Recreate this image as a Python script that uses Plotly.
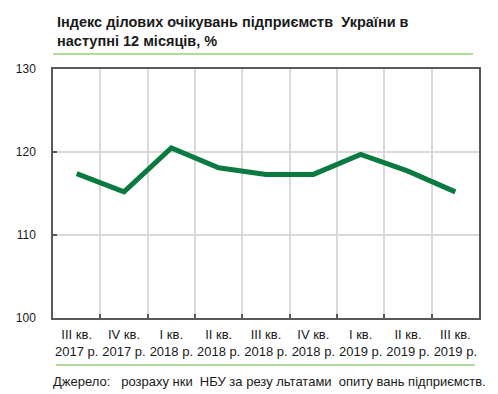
import plotly.graph_objects as go

categories = ["III кв.<br>2017 р.", "IV кв.<br>2017 р.", "I кв.<br>2018 р.", "II кв.<br>2018 р.",
              "III кв.<br>2018 р.", "IV кв.<br>2018 р.", "I кв.<br>2019 р.", "II кв.<br>2019 р.",
              "III кв.<br>2019 р."]
values = [117.4, 115.2, 120.5, 118.1, 117.3, 117.3, 119.7, 117.7, 115.2]
y_ticks = [100, 110, 120, 130]

title = "Індекс ділових очікувань підприємств  України в<br>наступні 12 місяців, %"
source = "Джерело:   розраху нки  НБУ за резу льтатами  опиту вань підприємств."

L, R, T, B = 53, 19, 69, 76
W, H = 498, 394
pw, ph = W - L - R, H - T - B

def px_x(x):
    return (x - L) / pw

def px_y(y):
    return (H - B - y) / ph

fig = go.Figure()
fig.add_trace(go.Scatter(x=categories, y=values, mode="lines",
                         line=dict(color="#0b7a40", width=5), hoverinfo="skip"))

font = "Liberation Sans, Arial, sans-serif"
fig.update_layout(
    width=W, height=H,
    margin=dict(l=L, r=R, t=T, b=B, autoexpand=False),
    paper_bgcolor="white", plot_bgcolor="white",
    showlegend=False,
    font=dict(family=font, size=12, color="#1a1a1a"),
    xaxis=dict(type="category", tickson="boundaries", range=[-0.5, len(categories) - 0.5],
               showgrid=True, gridcolor="#d9d9d9", tickangle=0,
               gridwidth=1.5, showline=True, mirror=True, linecolor="#595959", linewidth=1.5,
               ticks="inside", ticklen=4, tickcolor="#595959", tickwidth=1.5,
               tickfont=dict(size=13, color="#1a1a1a"), ticklabelstandoff=4),
    yaxis=dict(range=[100, 130], tickvals=y_ticks, showgrid=True, gridcolor="#d9d9d9",
               gridwidth=1.5, showline=True, mirror=True, linecolor="#595959", linewidth=1.5,
               ticks="inside", ticklen=4, tickcolor="#595959", tickwidth=1.5,
               tickfont=dict(size=12, color="#1a1a1a"), ticklabelstandoff=13, zeroline=False),
)

fig.add_annotation(text="<b>" + title + "</b>", xref="paper", yref="paper",
                   x=px_x(55), y=px_y(12), xanchor="left", yanchor="top", align="left",
                   showarrow=False, font=dict(size=14.5, color="#1a1a1a", family=font))
fig.add_annotation(text=source, xref="paper", yref="paper",
                   x=px_x(51), y=px_y(381), xanchor="left", yanchor="middle",
                   showarrow=False, font=dict(size=13, color="#1a1a1a", family=font))

fig.add_shape(type="line", xref="paper", yref="paper", x0=px_x(53), x1=px_x(473),
              y0=px_y(54), y1=px_y(54), line=dict(color="#9bcf7e", width=1.5))
fig.add_shape(type="line", xref="paper", yref="paper", x0=px_x(56), x1=px_x(475),
              y0=px_y(365), y1=px_y(365), line=dict(color="#9bcf7e", width=1.5))

fig.write_html("out.html", config={"displayModeBar": False},
               post_script="document.body.style.margin='0';document.body.style.overflow='hidden';")
